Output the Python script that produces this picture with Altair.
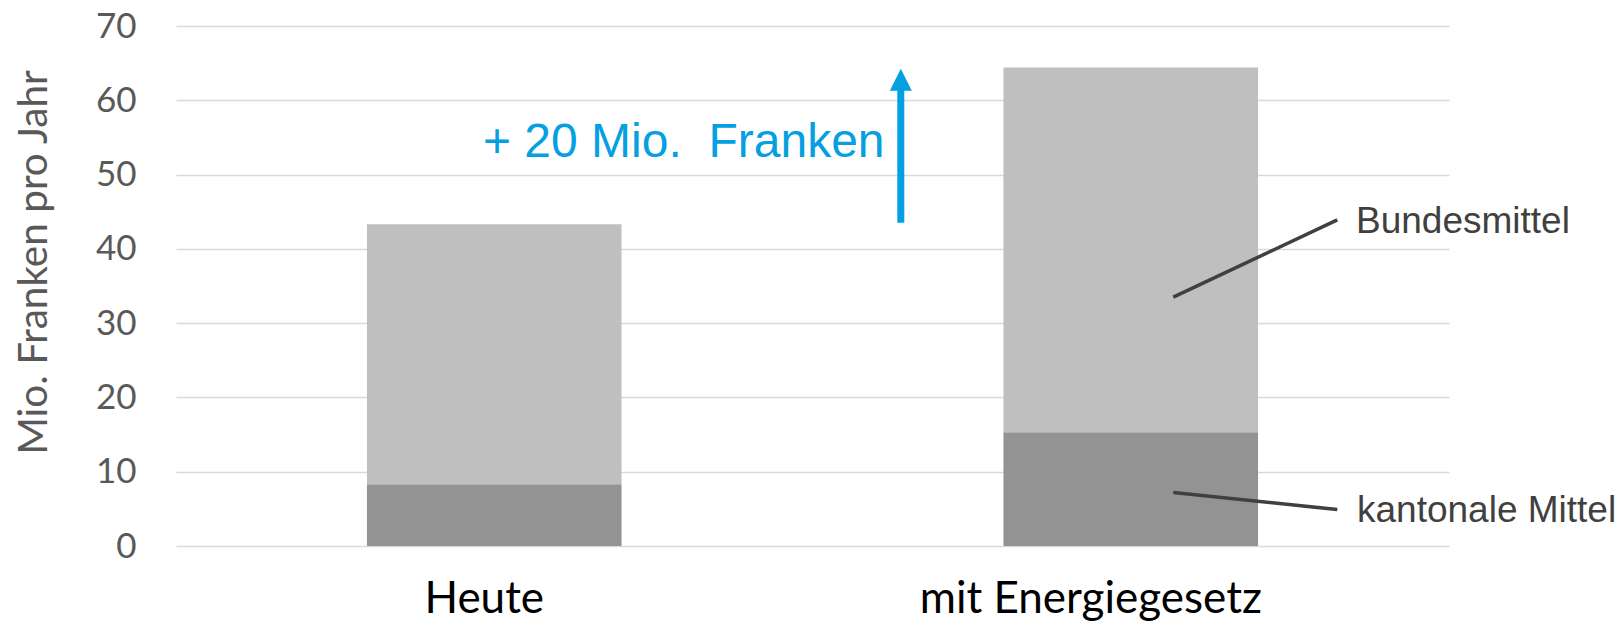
import altair as alt
import pandas as pd

# ---------------- data ----------------
CATEGORIES = ["Heute", "mit Energiegesetz"]
SERIES = ["kantonale Mittel", "Bundesmittel"]
KANTONALE = [8.3, 15.3]
BUNDES = [35.0, 49.1]
Y_TICKS = [0, 10, 20, 30, 40, 50, 60, 70]
Y_TITLE = "Mio. Franken pro Jahr"
INCREASE_LABEL = "+ 20 Mio.\u00a0 Franken"
INCREASE_TEXT_Y = 52.35
ARROW_FROM = 43.5
ARROW_HEAD_BASE = 61.6
ARROW_HEAD_CENTER = 62.76
BUND_LINE = [33.5, 43.9]
KANT_LINE = [7.2, 4.9]
BUND_LABEL_Y = 42.1
KANT_LABEL_Y = 3.2

rows = []
for i, c in enumerate(CATEGORIES):
    rows.append(dict(cat=c, series=SERIES[0], order=0, value=KANTONALE[i]))
    rows.append(dict(cat=c, series=SERIES[1], order=1, value=BUNDES[i]))
df = pd.DataFrame(rows)

# ---------------- styles ----------------
W, H = 1273, 520
BLUE = "#069FE1"
DARK = "#404040"
LABEL_DX = [-10, -40]
one = pd.DataFrame({"a": [0]})

xscale = alt.Scale(domain=CATEGORIES, paddingInner=0.6, paddingOuter=0.3)
yscale = alt.Scale(domain=[0, 70], nice=False)

bars = alt.Chart(df).mark_bar().encode(
    x=alt.X("cat:N", scale=xscale, axis=None, sort=CATEGORIES),
    y=alt.Y(
        "value:Q",
        stack="zero",
        scale=yscale,
        title=Y_TITLE,
        axis=alt.Axis(
            values=Y_TICKS,
            grid=True,
            gridColor="#D9D9D9",
            gridWidth=1.5,
            domain=False,
            ticks=False,
            labelFont="Lato",
            labelFontSize=35,
            labelColor="#595959",
            labelPadding=40,
            titleFont="Lato",
            titleFontSize=40.5,
            titleFontWeight="normal",
            titleColor="#595959",
            titleX=-130,
            titleY=236,
            titleAngle=-90,
            titleAlign="center",
            titleBaseline="alphabetic",
        ),
    ),
    color=alt.Color(
        "series:N",
        scale=alt.Scale(domain=SERIES, range=["#939393", "#BFBFBF"]),
        legend=None,
    ),
    order=alt.Order("order:Q", sort="ascending"),
)

layers = [bars]

for i, c in enumerate(CATEGORIES):
    layers.append(
        alt.Chart(pd.DataFrame({"cat": [c]}))
        .mark_text(
            font="Lato", fontSize=44, color="#000000", align="center",
            baseline="alphabetic", dx=LABEL_DX[i],
        )
        .encode(x=alt.X("cat:N", axis=None), y=alt.value(H + 67), text="cat:N")
    )

# arrow
layers.append(
    alt.Chart(one).mark_rule(color=BLUE, strokeWidth=7, strokeCap="butt").encode(
        x=alt.value(724.8), y=alt.datum(ARROW_FROM), y2=alt.datum(ARROW_HEAD_BASE)
    )
)
layers.append(
    alt.Chart(one)
    .mark_point(shape="M-1,1L1,1L0,-1Z", filled=True, size=484, color=BLUE,
                opacity=1, strokeWidth=0)
    .encode(x=alt.value(724.8), y=alt.datum(ARROW_HEAD_CENTER))
)
layers.append(
    alt.Chart(one)
    .mark_text(font="Liberation Sans", fontSize=48, color=BLUE, align="left",
               baseline="alphabetic")
    .encode(x=alt.value(307), y=alt.datum(INCREASE_TEXT_Y), text=alt.value(INCREASE_LABEL))
)

# leader lines and labels
layers.append(
    alt.Chart(one).mark_rule(color=DARK, strokeWidth=3.5).encode(
        x=alt.value(997.3), x2=alt.value(1161.3),
        y=alt.datum(BUND_LINE[0]), y2=alt.datum(BUND_LINE[1]),
    )
)
layers.append(
    alt.Chart(one).mark_rule(color=DARK, strokeWidth=3.5).encode(
        x=alt.value(997.3), x2=alt.value(1161.3),
        y=alt.datum(KANT_LINE[0]), y2=alt.datum(KANT_LINE[1]),
    )
)
layers.append(
    alt.Chart(one)
    .mark_text(font="Liberation Sans", fontSize=37, color=DARK, align="left",
               baseline="alphabetic")
    .encode(x=alt.value(1180), y=alt.datum(BUND_LABEL_Y), text=alt.value(SERIES[1]))
)
layers.append(
    alt.Chart(one)
    .mark_text(font="Liberation Sans", fontSize=37, color=DARK, align="left",
               baseline="alphabetic")
    .encode(x=alt.value(1181), y=alt.datum(KANT_LABEL_Y), text=alt.value(SERIES[0]))
)

chart = (
    alt.layer(*layers)
    .properties(
        width=W,
        height=H,
        padding={"left": 168, "top": 18, "right": 166, "bottom": 78},
        autosize=alt.AutoSizeParams(type="none"),
        background="white",
    )
    .configure_view(strokeWidth=0)
)

chart.save("out.html", embed_options={"renderer": "svg", "actions": False})
